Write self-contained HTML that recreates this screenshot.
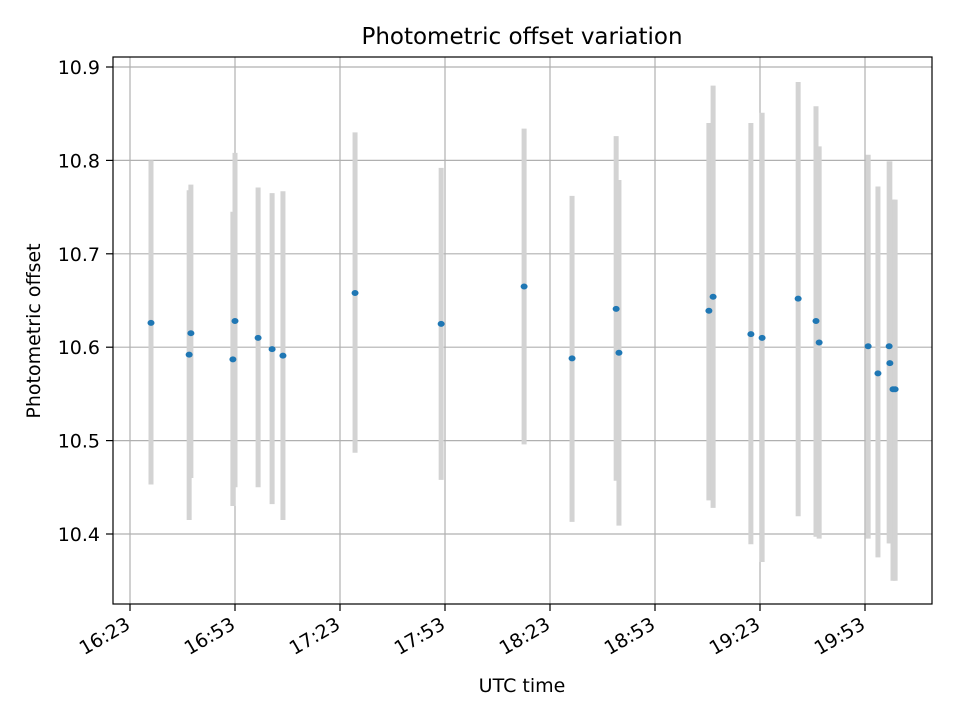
<!DOCTYPE html>
<html><head><meta charset="utf-8"><style>
body{margin:0;background:#fff;}
svg{display:block;font-family:"DejaVu Sans","Liberation Sans",sans-serif;}
</style></head><body>
<svg id="chart" width="960" height="720" viewBox="0 0 960 720" xmlns="http://www.w3.org/2000/svg">
<rect width="960" height="720" fill="#fff"/>
<g id="grid"></g><g id="bars"></g><g id="pts"></g><g id="axes"></g>
</svg>
<script>
// minutes after 16:00 UTC
const times=[29.0,39.9,40.4,52.4,53.0,59.6,63.6,66.7,87.3,111.9,135.6,149.3,161.9,162.7,188.4,189.6,200.4,203.6,213.9,219.0,219.9,233.9,236.7,239.9,240.1,241.0,241.6];
const offsets=[10.626,10.592,10.615,10.587,10.628,10.610,10.598,10.591,10.658,10.625,10.665,10.588,10.641,10.594,10.639,10.654,10.614,10.610,10.652,10.628,10.605,10.601,10.572,10.601,10.583,10.555,10.555];
const lows=[10.453,10.415,10.460,10.430,10.450,10.450,10.432,10.415,10.487,10.458,10.496,10.413,10.457,10.409,10.436,10.428,10.389,10.370,10.419,10.397,10.395,10.395,10.375,10.390,10.390,10.350,10.350];
const highs=[10.800,10.768,10.774,10.745,10.808,10.771,10.765,10.767,10.830,10.792,10.834,10.762,10.826,10.779,10.840,10.880,10.840,10.851,10.884,10.858,10.815,10.806,10.772,10.799,10.799,10.758,10.758];
const yTicks=[10.4,10.5,10.6,10.7,10.8,10.9];
const xTickMinutes=[23,53,83,113,143,173,203,233];
const xTickLabels=["16:23","16:53","17:23","17:53","18:23","18:53","19:23","19:53"];

const L=113,R=932,T=57,B=604;
const xs=m=>130+(m-23)*3.5;
const ys=v=>534-(v-10.4)*934;
const NS="http://www.w3.org/2000/svg";
function mk(tag,attrs,parent){const e=document.createElementNS(NS,tag);for(const k in attrs)e.setAttribute(k,attrs[k]);document.getElementById(parent).appendChild(e);return e;}

yTicks.forEach(v=>{
  const l=mk('line',{x1:L,x2:R,y1:ys(v),y2:ys(v),stroke:'#b0b0b0','stroke-width':1.2},'grid');
  
  
  const t=mk('line',{x1:L-7,x2:L,y1:ys(v),y2:ys(v),stroke:'#000','stroke-width':1.2},'axes');
  
  
  const tx=mk('text',{x:L-13,y:ys(v)+7,'text-anchor':'end','font-size':19,fill:'#000'},'axes');
  tx.textContent=v.toFixed(1);
  
  
});
xTickMinutes.forEach((m,i)=>{
  const x=xs(m);
  const l=mk('line',{x1:x,x2:x,y1:T,y2:B,stroke:'#b0b0b0','stroke-width':1.2},'grid');
  
  
  const t=mk('line',{x1:x,x2:x,y1:B,y2:B+7,stroke:'#000','stroke-width':1.2},'axes');
  
  
  const tx=mk('text',{x:0,y:15,'text-anchor':'end','font-size':19,fill:'#000',transform:`translate(${x-6} 615) rotate(-30)`},'axes');
  tx.textContent=xTickLabels[i];
  
  
});
times.forEach((m,i)=>{
  const x=xs(m);
  const b=mk('line',{x1:x,x2:x,y1:ys(highs[i]),y2:ys(lows[i]),stroke:'#d3d3d3','stroke-width':5},'bars');
  
  
  const p=mk('ellipse',{cx:x,cy:ys(offsets[i]),rx:3.5,ry:3,fill:'#1f77b4'},'pts');
  
  
});
const frame=mk('rect',{x:L,y:T,width:R-L,height:B-T,fill:'none',stroke:'#000','stroke-width':1.2},'axes');


const title=mk('text',{x:522,y:44,'text-anchor':'middle','font-size':23,fill:'#000'},'axes');
title.textContent='Photometric offset variation';


const xl=mk('text',{x:522,y:692,'text-anchor':'middle','font-size':19,fill:'#000'},'axes');
xl.textContent='UTC time';


const yl=mk('text',{x:40,y:331,'text-anchor':'middle','font-size':19,fill:'#000',transform:'rotate(-90 40 331)'},'axes');
yl.textContent='Photometric offset';


</script>
</body></html>
